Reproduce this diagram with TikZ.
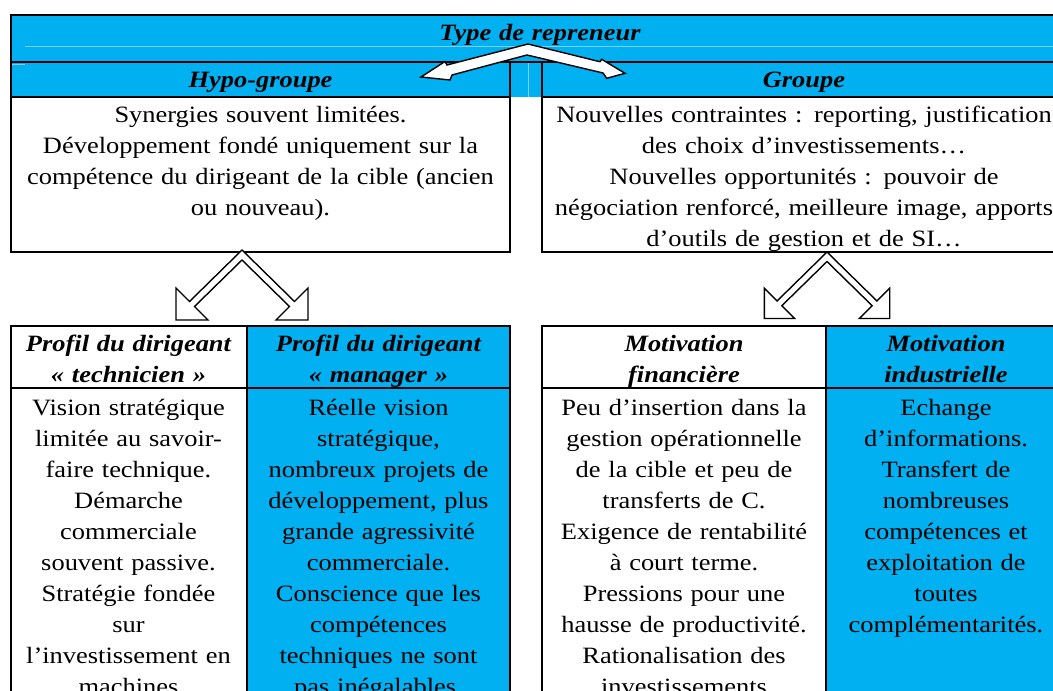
\documentclass[tikz,border=0pt]{standalone}
\usepackage{fontspec}
\setmainfont{Liberation Serif}[FakeStretch=1.13, Ligatures={TeX,NoCommon}]
\definecolor{cellblue}{RGB}{0,176,240}
\definecolor{faintline}{RGB}{125,208,245}
\tikzset{
  txt/.style={anchor=base, align=center, text width=#1, inner sep=0pt, outer sep=0pt, font=\fontsize{23.4}{31}\selectfont},
  hdr/.style={anchor=base, align=center, text width=#1, inner sep=0pt, outer sep=0pt, font=\fontsize{23.4}{31}\selectfont\bfseries\itshape},
  box/.style={draw=black, line width=2pt, anchor=north west, inner sep=0pt, outer sep=0pt},
  rule/.style={draw=black, line width=2pt},
  faint/.style={draw=faintline, line width=1pt},
  hollow/.style={draw=black, fill=white, line width=1.4pt, line join=miter},
  chevron/.pic={
    \path[hollow] (0,0) -- (-52.5,51.5) -- (-66,38) -- (-66,70) -- (-34,70) -- (-47.5,56.5)
      -- (0,10) -- (47.5,56.5) -- (34,70) -- (66,70) -- (66,38) -- (52.5,51.5) -- cycle;
  }
}
\begin{document}
\begin{tikzpicture}[x=1pt,y=-1pt]
\useasboundingbox (0,0) rectangle (1053,691);
\clip (0,0) rectangle (1053,691);
\fill[white] (0,0) rectangle (1053,691);
% blue fills
\fill[cellblue] (11,15) rectangle (1066,97);
\fill[cellblue] (247,326) rectangle (510,700);
\fill[cellblue] (826,326) rectangle (1066,700);
% faint cell borders
\draw[faint] (25,46) -- (1066,46);
\draw[faint] (11,64) -- (25,64);
\draw[faint] (528,62) -- (528,97);
% upper boxes
\node[box, minimum width=1055pt, minimum height=47pt] (typebox) at (11,15) {};
\node[box, minimum width=499pt, minimum height=190pt] (hypo) at (11,62) {};
\node[box, minimum width=524pt, minimum height=190pt] (groupe) at (542,62) {};
\draw[rule] (11,97) -- (510,97);
\draw[rule] (542,97) -- (1066,97);
% lower tables
\node[box, minimum width=499pt, minimum height=380pt] (profil) at (11,326) {};
\draw[rule] (11,388) -- (510,388);
\draw[rule] (247,326) -- (247,700);
\node[box, minimum width=524pt, minimum height=380pt] (motiv) at (542,326) {};
\draw[rule] (542,388) -- (1066,388);
\draw[rule] (826,326) -- (826,700);
% top double arrow
\path[hollow] (528,44) -- (447,65) -- (445,61.5) -- (421,77) -- (450,80) -- (452,75)
  -- (527,55) -- (603,73) -- (606.7,78.3) -- (625,73.3) -- (601.7,59.3) -- (600,61.7) -- cycle;
% chevron arrows
\pic at (242,250) {chevron};
\pic[scale=0.95] at (827,252) {chevron};
% texts
\node[hdr=900pt] (ttype) at (540,40) {Type de repreneur};
\node[hdr=480pt] (thypo) at (260.5,87.5) {Hypo-groupe};
\node[hdr=500pt] (tgroupe) at (804,87.5) {Groupe};
\node[txt=490pt] (bhypo) at (260.5,122) {Synergies souvent limitées.\\Développement fondé uniquement sur la\\compétence du dirigeant de la cible (ancien\\ou nouveau).};
\node[txt=600pt] (bgroupe) at (804,122) {Nouvelles contraintes : reporting, justification\\des choix d’investissements…\\Nouvelles opportunités : pouvoir de\\négociation renforcé, meilleure image, apports\\d’outils de gestion et de SI…};
\node[hdr=300pt] (htech) at (128.5,351) {Profil du dirigeant\\«~technicien~»};
\node[hdr=300pt] (hman) at (378.5,351) {Profil du dirigeant\\«~manager~»};
\node[hdr=300pt] (hfin) at (684,351) {Motivation\\financière};
\node[hdr=300pt] (hind) at (946,351) {Motivation\\industrielle};
\node[txt=300pt] (btech) at (128.5,415) {Vision stratégique\\limitée au savoir-\\faire technique.\\Démarche\\commerciale\\souvent passive.\\Stratégie fondée\\sur\\l’investissement en\\machines};
\node[txt=300pt] (bman) at (378.5,415) {Réelle vision\\stratégique,\\nombreux projets de\\développement, plus\\grande agressivité\\commerciale.\\Conscience que les\\compétences\\techniques ne sont\\pas inégalables.};
\node[txt=300pt] (bfin) at (684,415) {Peu d’insertion dans la\\gestion opérationnelle\\de la cible et peu de\\transferts de C.\\Exigence de rentabilité\\à court terme.\\Pressions pour une\\hausse de productivité.\\Rationalisation des\\investissements};
\node[txt=300pt] (bind) at (946,415) {Echange\\d’informations.\\Transfert de\\nombreuses\\compétences et\\exploitation de\\toutes\\complémentarités.};
\end{tikzpicture}
\end{document}
